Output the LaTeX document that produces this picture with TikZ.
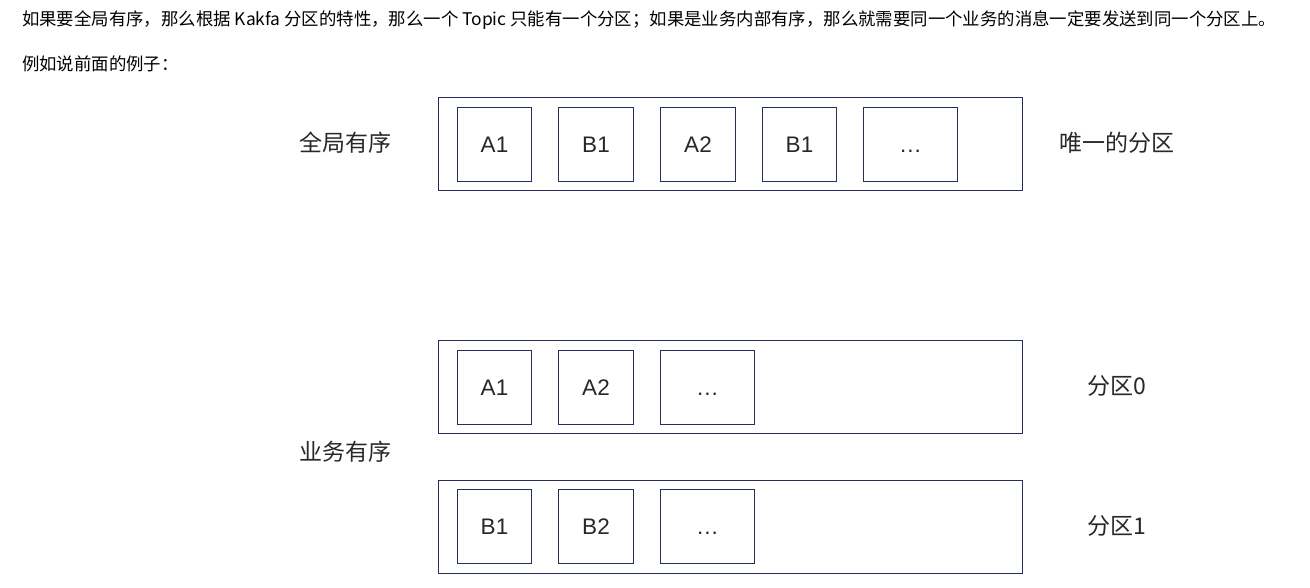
\documentclass[tikz,border=0pt]{standalone}
\usepackage{fontspec}
\setmainfont{Liberation Sans}
\newfontfamily\cjk{Noto Sans CJK SC}
\definecolor{navy}{RGB}{38,46,92}
\definecolor{txt}{RGB}{40,40,40}
\begin{document}
\begin{tikzpicture}[x=1pt,y=-1pt,
  outerbox/.style={draw=navy,line width=1.1pt,minimum width=584pt,minimum height=93pt,anchor=north west,inner sep=0pt},
  cell/.style={draw=navy,line width=1pt,minimum height=74pt,anchor=north west,inner sep=0pt,text height=16.2pt,text depth=0pt,font=\fontsize{22.5}{26}\selectfont,text=txt},
  lbl/.style={font=\cjk\fontsize{23}{27}\selectfont,text=txt},
  para/.style={font=\cjk\fontsize{17.4}{20}\selectfont,text=black,anchor=west,inner sep=0pt}]
\useasboundingbox (0,0) rectangle (1310,587);
\fill[white] (0,0) rectangle (1310,587);
\node[para] (p1) at (22,20) {如果要全局有序，那么根据 Kakfa 分区的特性，那么一个 Topic 只能有一个分区；如果是业务内部有序，那么就需要同一个业务的消息一定要发送到同一个分区上。};
\node[para] (p2) at (22,64) {例如说前面的例子：};
% top
\node[outerbox] (g) at (438,97) {};
\node[cell,minimum width=74pt] (g1) at (457,107) {A1};
\node[cell,minimum width=75pt] (g2) at (558,107) {B1};
\node[cell,minimum width=75pt] (g3) at (660,107) {A2};
\node[cell,minimum width=74pt] (g4) at (762,107) {B1};
\node[cell,minimum width=94pt] (g5) at (863,107) {.\kern1pt.\kern1pt.};
\node[lbl] (gl) at (345,143) {全局有序};
\node[lbl] (gr) at (1117,143) {唯一的分区};
% bottom 1
\node[outerbox] (p0) at (438,340) {};
\node[cell,minimum width=74pt] (a1) at (457,350) {A1};
\node[cell,minimum width=75pt] (a2) at (558,350) {A2};
\node[cell,minimum width=94pt] (a3) at (660,350) {.\kern1pt.\kern1pt.};
\node[lbl] (p0l) at (1117,386) {分区0};
% bottom 2
\node[outerbox] (q1) at (438,480) {};
\node[cell,minimum width=74pt] (b1) at (457,489) {B1};
\node[cell,minimum width=75pt] (b2) at (558,489) {B2};
\node[cell,minimum width=94pt] (b3) at (660,489) {.\kern1pt.\kern1pt.};
\node[lbl] (q1l) at (1117,526) {分区1};
\node[lbl] (bl) at (345,452) {业务有序};
\end{tikzpicture}
\end{document}
